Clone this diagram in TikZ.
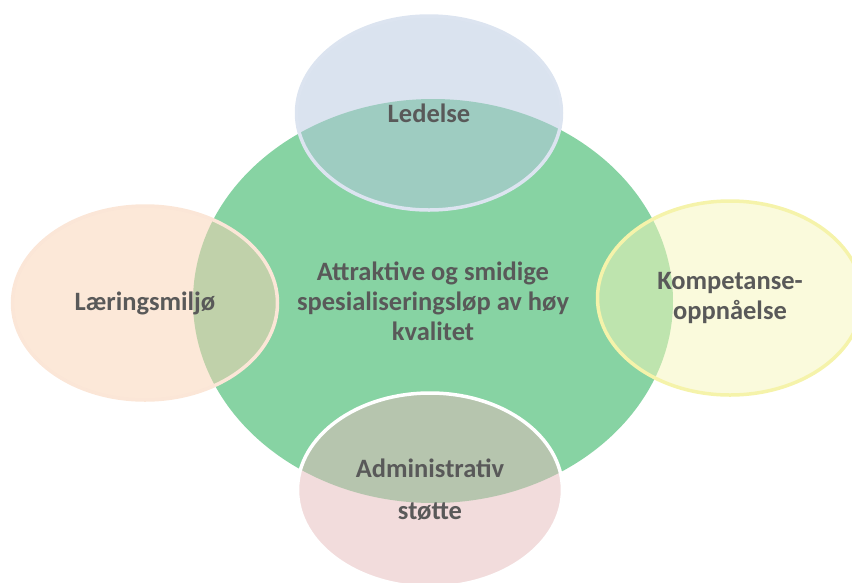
\documentclass[tikz,border=0pt]{standalone}
\usepackage{fontspec}
\setmainfont{Carlito}
\usetikzlibrary{shapes.geometric}
\definecolor{kjerne}{HTML}{87D3A3}
\definecolor{ledfill}{HTML}{B5C7DF}
\definecolor{ledline}{HTML}{DCE4F0}
\definecolor{lerfill}{HTML}{F9D1B1}
\definecolor{lerline}{HTML}{FBE6D7}
\definecolor{komfill}{HTML}{F5F5B9}
\definecolor{komline}{HTML}{F5F3AA}
\definecolor{admfill}{HTML}{E5B9B9}
\definecolor{tekst}{HTML}{595959}
\begin{document}
\begin{tikzpicture}[x=1pt, y=-1pt,
    blob/.style={ellipse, inner sep=0pt, minimum width=265pt, minimum height=194pt,
      fill opacity=0.5, text opacity=1, line width=3.5pt, align=center,
      text=tekst, font=\fontsize{26.5}{30}\selectfont\bfseries}]
    \useasboundingbox (0, 0) rectangle (852, 582);
    \node[blob, fill=kjerne, fill opacity=1, minimum width=480pt, minimum height=404pt]
      (kjerne) at (433, 301) {Attraktive og smidige\\spesialiseringsløp av høy\\kvalitet};
    \node[blob, fill=ledfill, draw=ledline] (ledelse) at (429, 113) {Ledelse};
    \node[blob, fill=lerfill, draw=lerline] (laering) at (145, 303) {Læringsmiljø};
    \node[blob, fill=komfill, draw=komline] (kompetanse) at (730, 298) {Kompetanse-\\oppnåelse};
    \node[blob, fill=admfill, draw=white] (admin) at (430, 490) {Administrativ\\[12pt]støtte};
  \end{tikzpicture}
\end{document}
